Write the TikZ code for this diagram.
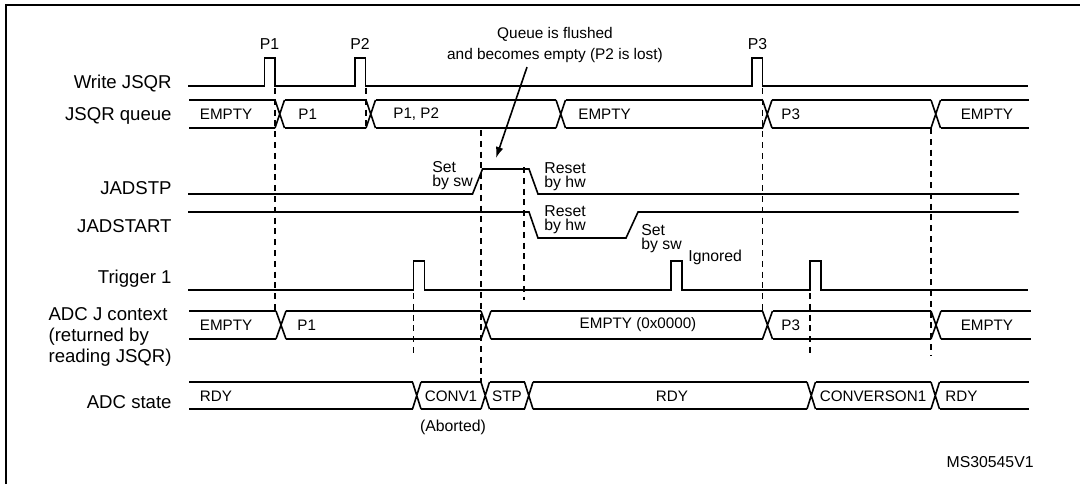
\documentclass[tikz,border=0pt]{standalone}
\usepackage{fontspec}
\setmainfont{Liberation Sans}
\usetikzlibrary{arrows.meta}

% bus with crossings: top y, bottom y, segments a/b, crossings c/d
\newcommand{\busrow}[4]{%
  \foreach \a/\b in {#3} \draw[sig] (\a,#1) -- (\b,#1) (\a,#2) -- (\b,#2);
  \foreach \c/\d in {#4} \draw[sig] (\c,#1) -- (\d,#2) (\c,#2) -- (\d,#1);
}

\begin{document}
\begin{tikzpicture}[
  x=0.5pt, y=-0.5pt,
  every node/.style={inner sep=0pt},
  sig/.style={line width=0.8pt},
  guide/.style={line width=0.8pt, dash pattern=on 3pt off 2.4pt},
  rowlabel/.style={anchor=east, font=\fontsize{9.3}{10.5}\selectfont},
  bustext/.style={anchor=west, font=\fontsize{7.6}{9}\selectfont},
  note/.style={align=left, font=\fontsize{7.9}{7}\selectfont}
]
\useasboundingbox (0,0) rectangle (1080,484);
\draw[line width=1pt] (6,484) -- (6,5) -- (1080,5);

% row labels
\node[rowlabel] (wr) at (172,84) {Write JSQR};
\node[rowlabel] (queue) at (172,116) {JSQR queue};
\node[rowlabel] (stp) at (172,188) {JADSTP};
\node[rowlabel] (start) at (172,226) {JADSTART};
\node[rowlabel] (trig) at (172,279) {Trigger 1};
\node[rowlabel, align=left] (ctx) at (172,337) {ADC J context\\(returned by\\reading JSQR)};
\node[rowlabel] (state) at (172,402) {ADC state};

% Write JSQR
\draw[sig] (188,86) foreach \p in {264.5,355,752} { -- (\p,86) -- (\p,58) -- ++(10.5,0) -- ++(0,28) } -- (1028,86);
\node[note] (p1) at (269.5,44) {P1};
\node[note] (p2) at (360,44) {P2};
\node[note] (p3) at (757.5,44) {P3};

% JSQR queue
\busrow{100}{128}{189/275, 284.5/366, 375.5/556, 565.5/762.5, 772/931, 940.5/1029}{275/284.5, 366/375.5, 556/565.5, 762.5/772, 931/940.5}
\node[bustext] (q1) at (199.5,114) {EMPTY};
\node[bustext] (q2) at (298,114) {P1};
\node[bustext] (q3) at (393,114) {P1, P2};
\node[bustext] (q4) at (578,114) {EMPTY};
\node[bustext] (q5) at (781,114) {P3};
\node[bustext, anchor=east] (q6) at (1013.5,114) {EMPTY};

% JADSTP and JADSTART
\draw[sig] (188,194) -- (472.5,194) -- (482.5,169) -- (529,169) -- (538,194) -- (1019,194);
\draw[sig] (188,212) -- (529,212) -- (538,238) -- (626,238) -- (638,212) -- (1018.5,212);
\node[note, anchor=north west] (setstp) at (432,161) {Set\\by sw};
\node[note, anchor=north west] (resstp) at (544,162) {Reset\\by hw};
\node[note, anchor=north west] (resstart) at (544,205.5) {Reset\\by hw};
\node[note, anchor=north west] (setstart) at (641,224) {Set\\by sw};

% Trigger 1
\draw[sig] (188,290) foreach \p in {413.5,671,810} { -- (\p,290) -- (\p,261) -- ++(11,0) -- ++(0,29) } -- (1028,290);
\node[note, anchor=west] (ign) at (688,257) {Ignored};

% ADC J context
\busrow{311}{339}{189/276, 286/481, 491/762.5, 772.5/931, 941/1031}{276/286, 481/491, 762.5/772.5, 931/941}
\node[bustext] (c1) at (199.5,325) {EMPTY};
\node[bustext] (c2) at (297,325) {P1};
\node[bustext, anchor=center] (c3) at (638,325) {EMPTY (0x0000)};
\node[bustext] (c4) at (781,325) {P3};
\node[bustext, anchor=east] (c5) at (1013.5,325) {EMPTY};

% ADC state
\busrow{382}{409}{189/412.5, 421/481, 489.5/524.5, 533/807, 815.5/931, 939.5/1029}{412.5/421, 481/489.5, 524.5/533, 807/815.5, 931/939.5}
\node[bustext] (s1) at (199.5,396) {RDY};
\node[bustext, anchor=center] (s2) at (451,396) {CONV1};
\node[bustext, anchor=center] (s3) at (507,396) {STP};
\node[bustext, anchor=center] (s4) at (672,396) {RDY};
\node[bustext, anchor=center] (s5) at (873,396) {CONVERSON1};
\node[bustext] (s6) at (945,396) {RDY};
\node[note] (abort) at (453,427) {(Aborted)};

% guide lines
\draw[guide] (275,88) -- (275,311);
\draw[guide] (366,88) -- (366,128);
\draw[guide] (481,130) -- (481,382);
\draw[guide] (524,167) -- (524,300);
\draw[guide] (413.5,293) -- (413.5,355);
\draw[guide] (762.5,88) -- (762.5,311);
\draw[guide] (810,293) -- (810,357);
\draw[guide] (931,128) -- (931,355);

% note on the flush
\node[note, align=center, font=\fontsize{7.7}{10.5}\selectfont] (flush) at (555,45) {Queue is flushed\\and becomes empty (P2 is lost)};
\coordinate (flushtip) at (496,158);
\draw[sig, -{Latex[length=5.5pt,width=3.8pt]}] ([xshift=-14pt,yshift=-2pt]flush.south) -- (flushtip);

\node[note, anchor=east] (ref) at (1034,462) {MS30545V1};
\end{tikzpicture}
\end{document}
